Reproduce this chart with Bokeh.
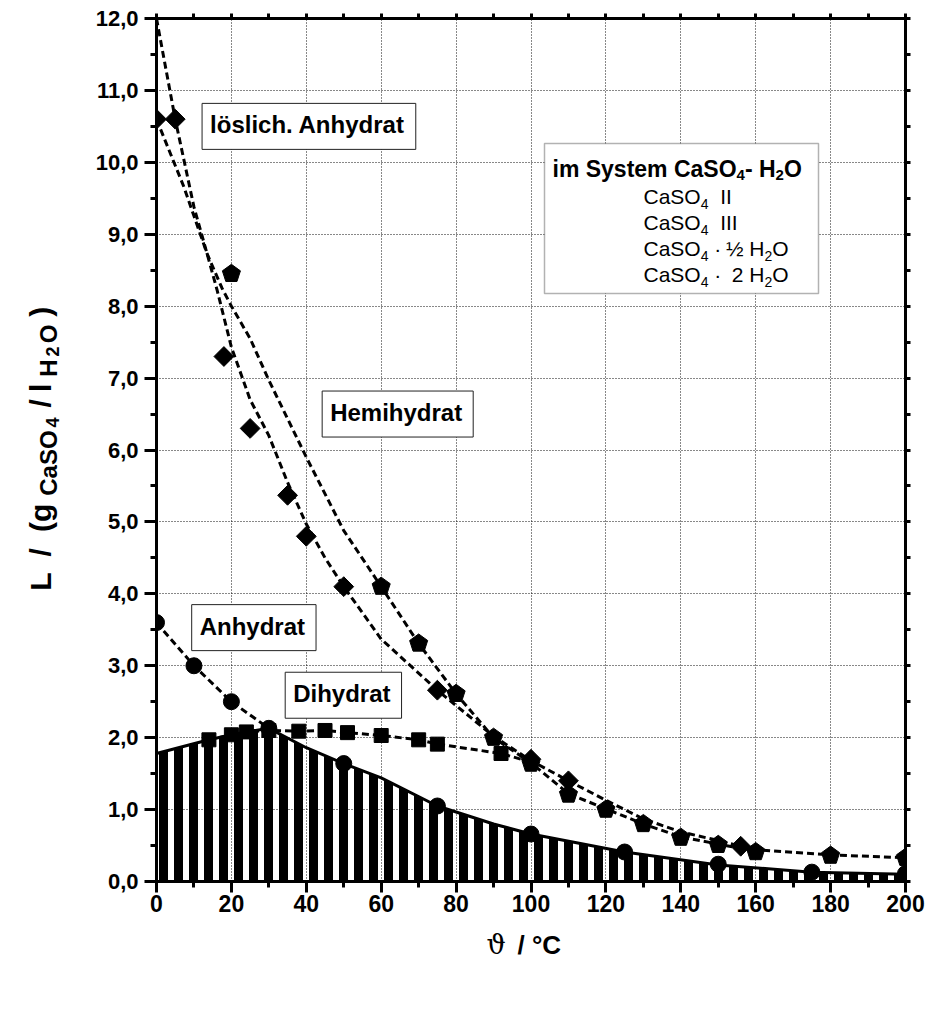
import math
from bokeh.plotting import figure
from bokeh.models import Range1d, LinearAxis, FixedTicker, Label, BoxAnnotation, Grid
from bokeh.layouts import row, column
from bokeh.embed import file_html
from bokeh.resources import INLINE

# ---------------- data ----------------
# CaSO4 II (Anhydrit) - circles
t_II = [0, 10, 20, 30, 50, 75, 100, 125, 150, 175, 200]
L_II = [3.6, 3.0, 2.5, 2.13, 1.64, 1.05, 0.66, 0.41, 0.24, 0.13, 0.11]
# CaSO4 III (loesl. Anhydrit) - diamonds
t_III = [0, 5, 18, 25, 35, 40, 50, 75, 100, 110, 156]
L_III = [10.6, 10.6, 7.3, 6.3, 5.37, 4.8, 4.1, 2.66, 1.7, 1.4, 0.49]
# CaSO4 . 1/2 H2O - pentagons
t_half = [20, 60, 70, 80, 90, 100, 110, 120, 130, 140, 150, 160, 180, 200]
L_half = [8.45, 4.1, 3.31, 2.61, 2.0, 1.64, 1.21, 1.0, 0.8, 0.61, 0.51, 0.41, 0.36, 0.33]
# CaSO4 . 2 H2O - squares
t_di = [14, 20, 24, 30, 38, 45, 51, 60, 70, 75, 92]
L_di = [1.97, 2.04, 2.08, 2.1, 2.09, 2.1, 2.07, 2.03, 1.97, 1.91, 1.78]

# dashed fit curves
curveA_t = [0, 5, 10, 13.5, 16.2, 20, 25, 30, 35, 40, 45, 50, 60, 75, 90, 100, 110, 120, 130, 140, 150, 156, 160, 180, 200]
curveA_L = [12.0, 10.6, 9.38, 8.73, 8.22, 7.43, 6.7, 6.2, 5.55, 4.97, 4.5, 4.1, 3.37, 2.66, 2.02, 1.68, 1.4, 1.13, 0.87, 0.69, 0.57, 0.49, 0.44, 0.37, 0.33]
curveB_t = [0, 7.3, 13.5, 17.5, 20, 25, 30, 40, 50, 60, 70, 80, 90, 100, 110, 120, 130, 140, 150, 160]
curveB_L = [10.6, 9.66, 8.73, 8.25, 8.0, 7.55, 6.97, 5.9, 4.88, 4.1, 3.31, 2.61, 2.0, 1.65, 1.22, 1.01, 0.8, 0.62, 0.52, 0.42]
curveAnh_t = [0, 10, 20, 30]
curveAnh_L = [3.6, 3.0, 2.5, 2.13]
curveDi_t = [14, 20, 24, 30, 38, 45, 51, 60, 70, 75, 92, 100]
curveDi_L = [1.97, 2.04, 2.08, 2.1, 2.09, 2.1, 2.07, 2.03, 1.97, 1.91, 1.78, 1.66]
# stable phase boundary (solid line, hatched area below)
stable_t = [0, 14, 20, 24, 30, 40, 50, 60, 75, 90, 100, 125, 150, 175, 200]
stable_L = [1.78, 1.97, 2.04, 2.08, 2.13, 1.86, 1.64, 1.44, 1.05, 0.8, 0.66, 0.41, 0.23, 0.13, 0.1]

x_ticks = list(range(0, 201, 20))
x_minor = list(range(0, 201, 10))
y_ticks = list(range(0, 13))
y_minor = [v / 2 for v in range(0, 25)]
y_tick_labels = {v: f"{v},0" for v in y_ticks}

# ---------------- layout ----------------
W, H = 926, 1010
YW = 80                      # strip for the y title
ML, MR, MT = 156, 21, 18
FW, FH = 749, 863
MB_MAIN = 48                 # bottom border of the main plot (tick labels)
MAIN_H = MT + FH + MB_MAIN
XH = H - MAIN_H              # strip for the x title
XMAX, YMAX = 200, 12
PXX, PXY = FW / XMAX, FH / YMAX
FONT = "Liberation Sans"

p = figure(frame_width=FW, frame_height=FH, x_range=Range1d(0, XMAX), y_range=Range1d(0, YMAX),
           output_backend="svg", toolbar_location=None,
           min_border_left=ML - YW, min_border_right=MR, min_border_top=MT, min_border_bottom=MB_MAIN,
           x_axis_type=None, y_axis_type=None)
p.outline_line_color = "black"
p.outline_line_width = 3

def style_axis(ax, out_major=12, out_minor=6, size="22px", standoff=6):
    ax.axis_line_width = 3
    ax.major_tick_line_width = 3
    ax.minor_tick_line_width = 3
    ax.major_tick_in = 0
    ax.minor_tick_in = 0
    ax.major_tick_out = out_major
    ax.minor_tick_out = out_minor
    ax.major_label_text_font = FONT
    ax.major_label_text_font_style = "bold"
    ax.major_label_text_color = "black"
    ax.major_label_standoff = standoff
    ax.major_label_text_font_size = size

xb = LinearAxis(ticker=FixedTicker(ticks=x_ticks, minor_ticks=x_minor))
style_axis(xb, out_major=11, out_minor=6, size="23px", standoff=2)
p.add_layout(xb, "below")
yl = LinearAxis(ticker=FixedTicker(ticks=y_ticks, minor_ticks=y_minor),
                major_label_overrides=y_tick_labels)
style_axis(yl, out_major=12, out_minor=6, size="22px", standoff=6)
p.add_layout(yl, "left")
# top / right: only small ticks, no labels
xt = LinearAxis(ticker=FixedTicker(ticks=[], minor_ticks=x_minor))
style_axis(xt, out_major=5, out_minor=5)
p.add_layout(xt, "above")
yr = LinearAxis(ticker=FixedTicker(ticks=[], minor_ticks=y_minor))
style_axis(yr, out_major=5, out_minor=5)
p.add_layout(yr, "right")

for dim, tk in ((0, x_ticks), (1, y_ticks)):
    p.add_layout(Grid(dimension=dim, ticker=FixedTicker(ticks=tk), grid_line_color="#111111",
                      grid_line_dash="1 2", grid_line_width=1))

# hatched region (stable phases)
p.varea(x=stable_t, y1=[0] * len(stable_t), y2=stable_L, fill_alpha=0,
        hatch_pattern="vertical_line", hatch_color="black", hatch_weight=9, hatch_scale=15)
p.line(stable_t, stable_L, line_color="black", line_width=3)

DASH = "7 4"
for tx, ly in ((curveA_t, curveA_L), (curveB_t, curveB_L), (curveAnh_t, curveAnh_L), (curveDi_t, curveDi_L)):
    p.line(tx, ly, line_color="black", line_width=3, line_dash=DASH)

# markers
CIRC, SQ, DIA, PENT = 16, 14, 14, 9.5
p.scatter(t_II, L_II, marker="circle", size=CIRC, color="black")
p.scatter(t_III, L_III, marker="square", angle=math.pi / 4, size=DIA, color="black")
p.scatter(t_di, L_di, marker="square", size=SQ, color="black")

def pentagon(cx, cy, r):
    xs = [cx + r * math.sin(2 * math.pi * k / 5) / PXX for k in range(5)]
    ys = [cy + r * math.cos(2 * math.pi * k / 5) / PXY for k in range(5)]
    return xs, ys

pxs, pys = zip(*[pentagon(a, b, PENT) for a, b in zip(t_half, L_half)])
p.patches(list(pxs), list(pys), color="black")

# ---------------- rich text helper ----------------
W_REG = {' ': 278, 'C': 722, 'a': 556, 'S': 667, 'O': 778, 'I': 278, 'H': 722, '2': 556, '4': 556,
         '·': 278, '½': 834, '-': 333}
W_BOLD = {' ': 278, 'i': 278, 'm': 889, 'S': 667, 'y': 556, 's': 556, 't': 333, 'e': 556, 'C': 722,
          'a': 556, 'O': 778, '4': 556, '-': 333, 'H': 722, '2': 556, 'L': 611, '/': 278, '(': 333,
          ')': 333, 'g': 611, 'l': 278, '°': 400}

def tw(s, size, bold):
    tab = W_BOLD if bold else W_REG
    return sum(tab.get(c, 556) for c in s) * size / 1000

def rich(fig, x, y, pieces, dx0=0, dy0=0, angle=0.0, font=FONT):
    """pieces: (text, size_px, bold, drop_px, extra_gap_after_px)"""
    adv = 0.0
    for text, size, bold, drop, gap in pieces:
        lead = len(text) - len(text.lstrip(' '))
        adv += tw(' ' * lead, size, bold)
        core = text.strip(' ')
        if angle == 0:
            xo, yo = dx0 + adv, dy0 - drop
        else:
            xo, yo = dx0 + drop, dy0 + adv
        if core:
            fig.add_layout(Label(x=x, y=y, x_offset=xo, y_offset=yo, text=core, angle=angle,
                                 text_font=font, text_font_size=f"{size}px",
                                 text_font_style="bold" if bold else "normal",
                                 text_baseline="alphabetic", text_align="left", text_color="black"))
        adv += tw(text.lstrip(' '), size, bold) + gap
    return adv

# region labels with boxes
def boxed(x, y, text):
    p.add_layout(Label(x=x, y=y, text=text, text_font=FONT, text_font_style="bold",
                       text_font_size="24px", text_align="center", text_baseline="middle",
                       text_color="black", background_fill_color="white", border_line_color="#222222",
                       border_line_width=1, padding=(8, 11, 8, 11)))

boxed(40.7, 10.5, "löslich. Anhydrat")
boxed(64.4, 6.5, "Hemihydrat")
boxed(26.0, 3.53, "Anhydrat")
boxed(49.9, 2.59, "Dihydrat")

# legend
def px2x(px): return (px - ML) / PXX
def py2y(py): return (MT + FH - py) / PXY

p.add_layout(BoxAnnotation(left=px2x(544), right=px2x(818), top=py2y(143), bottom=py2y(293),
                           fill_color="white", fill_alpha=1, line_color="black", line_width=1.5))
rich(p, px2x(552), py2y(168), [("im System CaSO", 23, True, 0, 0), ("4", 15, True, 6, 0),
                               ("- H", 23, True, 0, 0), ("2", 15, True, 6, 0), ("O", 23, True, 0, 0)])
rows_y = [189, 215, 241, 267]
mx = px2x(608)
p.scatter([mx], [py2y(rows_y[0])], marker="circle", size=CIRC, color="black")
p.scatter([mx], [py2y(rows_y[1])], marker="square", angle=math.pi / 4, size=DIA, color="black")
lx, ly = pentagon(mx, py2y(rows_y[2]), PENT)
p.patch(lx, ly, color="black")
p.scatter([mx], [py2y(rows_y[3])], marker="square", size=SQ, color="black")
SP = tw(' ', 21, False)
leg_texts = [
    [("CaSO", 21, False, 0, 0), ("4", 14, False, 7, 0), ("  II", 21, False, 0, 0)],
    [("CaSO", 21, False, 0, 0), ("4", 14, False, 7, 0), ("  III", 21, False, 0, 0)],
    [("CaSO", 21, False, 0, 0), ("4", 14, False, 7, 0), (" ·", 21, False, 0, SP), ("½ H", 21, False, 0, 0),
     ("2", 14, False, 7, 0), ("O", 21, False, 0, 0)],
    [("CaSO", 21, False, 0, 0), ("4", 14, False, 7, 0), (" ·", 21, False, 0, 2 * SP), ("2 H", 21, False, 0, 0),
     ("2", 14, False, 7, 0), ("O", 21, False, 0, 0)],
]
for ry, pieces in zip(rows_y, leg_texts):
    rich(p, px2x(643), py2y(ry + 7), pieces)

# ---------------- title strips (pixel coordinates, y downward) ----------------
def strip(w, h, y_top):
    f = figure(width=w, height=h, x_range=Range1d(0, w), y_range=Range1d(y_top + h, y_top),
               output_backend="svg", toolbar_location=None, min_border=0,
               x_axis_type=None, y_axis_type=None)
    f.outline_line_color = None
    return f

ylab = strip(YW, MAIN_H, 0)
rich(ylab, 40, 616, [("L", 30, True, 0, 16), ("/", 30, True, 0, 16), ("(g", 30, True, 0, 8),
                     ("CaSO", 24, True, 8, 3), ("4", 18, True, 12, 10), ("/", 30, True, 0, 7),
                     ("l", 30, True, 0, 7), ("H", 24, True, 8, 3), ("2", 18, True, 12, 3),
                     ("O", 24, True, 8, 8), (")", 30, True, 0, 0)], angle=math.pi / 2)

xlab = strip(W, XH, MAIN_H)
xlab.add_layout(Label(x=486, y=944, text="ϑ", text_font="DejaVu Serif", text_font_size="27px",
                      text_color="black", text_baseline="alphabetic", text_align="left"))
xlab.add_layout(Label(x=517, y=944, text="/ °C", text_font=FONT, text_font_style="bold",
                      text_font_size="26px", text_color="black", text_baseline="alphabetic",
                      text_align="left"))

layout = column(row(ylab, p, spacing=0), xlab, spacing=0)
open("out.html", "w").write(file_html(layout, INLINE))
